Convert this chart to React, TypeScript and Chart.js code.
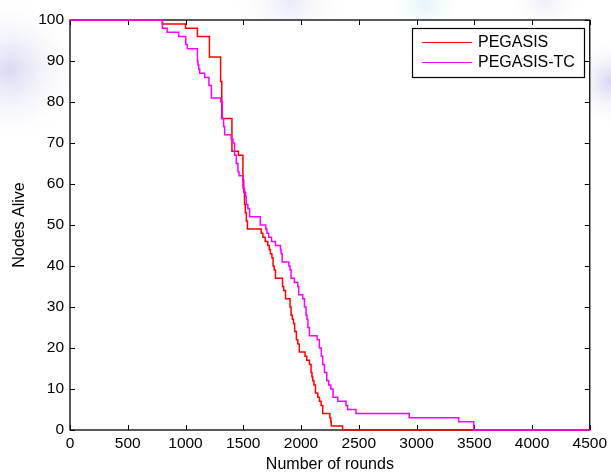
import React, { useEffect, useRef } from 'react';
import { Chart, registerables } from 'chart.js';

Chart.register(...registerables);

const xTicks = [0, 500, 1000, 1500, 2000, 2500, 3000, 3500, 4000, 4500];
const yTicks = [0, 10, 20, 30, 40, 50, 60, 70, 80, 90, 100];
const seriesLabels = ['PEGASIS', 'PEGASIS-TC'];
const seriesColors = ['#ff0000', '#ff00ff'];
const xTitle = 'Number of rounds';
const yTitle = 'Nodes Alive';

// PEGASIS: round at which the alive count changes, and the new count
const pegasisRounds = [0, 800, 1000, 1103, 1207, 1304, 1314, 1402, 1458, 1497, 1504, 1511, 1518, 1527, 1536, 1655, 1670, 1690, 1712, 1725, 1735, 1748, 1758, 1768, 1779, 1840, 1850, 1866, 1905, 1914, 1925, 1935, 1945, 1960, 1972, 1985, 2035, 2050, 2073, 2087, 2095, 2101, 2112, 2125, 2145, 2160, 2174, 2188, 2250, 2258, 2262, 2360, 4500];
const pegasisAlive = [100, 99, 98, 96, 91, 85, 76, 68, 67, 61, 58, 55, 53, 51, 49, 48, 47, 46, 45, 44, 43, 42, 40, 39, 37, 35, 34, 32, 30, 28, 27, 26, 24, 22, 21, 19, 18, 17, 16, 14, 13, 12, 11, 9, 8, 7, 6, 4, 3, 2, 1, 0, 0];

// PEGASIS-TC
const tcRounds = [0, 800, 841, 941, 1002, 1016, 1103, 1108, 1115, 1123, 1166, 1203, 1224, 1304, 1319, 1330, 1339, 1396, 1411, 1425, 1440, 1454, 1463, 1497, 1511, 1520, 1526, 1540, 1555, 1647, 1695, 1705, 1720, 1745, 1779, 1822, 1828, 1837, 1895, 1905, 1914, 1943, 1972, 1980, 2015, 2030, 2044, 2052, 2060, 2073, 2140, 2159, 2176, 2188, 2203, 2223, 2240, 2258, 2278, 2318, 2390, 2404, 2476, 2937, 3365, 3495, 4500];
const tcAlive = [100, 98, 97, 96, 94, 93, 90, 89, 88, 87, 86, 84, 81, 80, 76, 74, 72, 71, 70, 67, 65, 63, 62, 59, 58, 57, 55, 54, 52, 50, 49, 48, 47, 46, 45, 44, 43, 41, 40, 39, 37, 36, 35, 33, 32, 30, 28, 27, 25, 23, 22, 20, 18, 16, 14, 12, 11, 10, 8, 7, 6, 5, 4, 3, 2, 0, 0];

const FONT = 'Liberation Sans, Arial, Helvetica, sans-serif';

const boxPlugin = {
  id: 'matlabBox',
  beforeDraw(chart: any) {
    const { ctx, width, height, chartArea } = chart;
    ctx.save();
    ctx.fillStyle = '#ffffff';
    ctx.fillRect(0, 0, width, height);
    const blobs = [
      [10, 70, 75, 'rgba(170,170,225,0.45)'],
      [290, 0, 60, 'rgba(195,195,235,0.35)'],
      [425, 4, 40, 'rgba(185,228,238,0.4)'],
      [611, 82, 45, 'rgba(170,170,225,0.5)'],
      [545, 0, 40, 'rgba(205,205,240,0.35)'],
    ];
    blobs.forEach(([bx, by, r, c]: any) => {
      const g = ctx.createRadialGradient(bx, by, 0, bx, by, r);
      g.addColorStop(0, c);
      g.addColorStop(1, 'rgba(255,255,255,0)');
      ctx.fillStyle = g;
      ctx.fillRect(bx - r, by - r, r * 2, r * 2);
    });
    ctx.fillStyle = '#ffffff';
    ctx.fillRect(chartArea.left, chartArea.top, chartArea.right - chartArea.left, chartArea.bottom - chartArea.top);
    ctx.restore();
  },
  beforeDatasetsDraw(chart: any) {
    const { ctx, chartArea, scales } = chart;
    const { left, right, top, bottom } = chartArea;
    ctx.save();
    ctx.strokeStyle = '#000000';
    ctx.lineWidth = 1.3;
    ctx.strokeRect(left, top, right - left, bottom - top);
    ctx.lineWidth = 1;
    ctx.beginPath();
    xTicks.forEach((v) => {
      const p = Math.round(scales.x.getPixelForValue(v)) + 0.5;
      ctx.moveTo(p, bottom);
      ctx.lineTo(p, bottom - 5);
      ctx.moveTo(p, top);
      ctx.lineTo(p, top + 5);
    });
    yTicks.forEach((v) => {
      const p = Math.round(scales.y.getPixelForValue(v)) + 0.5;
      ctx.moveTo(left, p);
      ctx.lineTo(left + 5, p);
      ctx.moveTo(right, p);
      ctx.lineTo(right - 5, p);
    });
    ctx.stroke();
    ctx.restore();
  },
  afterDraw(chart: any) {
    const { ctx } = chart;
    ctx.save();
    const bx = 412.5, by = 28.5, bw = 172, bh = 49;
    ctx.fillStyle = '#ffffff';
    ctx.fillRect(bx, by, bw, bh);
    ctx.strokeStyle = '#000000';
    ctx.lineWidth = 1.2;
    ctx.strokeRect(bx, by, bw, bh);
    chart.data.datasets.forEach((ds: any, i: number) => {
      const y = 42.5 + i * 20;
      ctx.strokeStyle = ds.borderColor;
      ctx.lineWidth = 1;
      ctx.beginPath();
      ctx.moveTo(422, y);
      ctx.lineTo(472, y);
      ctx.stroke();
      ctx.fillStyle = '#000000';
      ctx.font = `16px ${FONT}`;
      ctx.textBaseline = 'middle';
      ctx.textAlign = 'left';
      ctx.fillText(ds.label, 478, y);
    });
    ctx.restore();
  },
};

export default function App() {
  const ref = useRef<HTMLCanvasElement | null>(null);

  useEffect(() => {
    document.body.style.margin = '0';
    if (!ref.current) return;
    const chart = new Chart(ref.current, {
      type: 'line',
      data: {
        datasets: [
          {
            label: seriesLabels[0],
            data: pegasisRounds.map((x, i) => ({ x, y: pegasisAlive[i] })),
            borderColor: seriesColors[0],
            backgroundColor: seriesColors[0],
            borderWidth: 1.5,
            pointRadius: 0,
            stepped: 'before',
            fill: false,
            clip: 3,
            order: 1,
          },
          {
            label: seriesLabels[1],
            data: tcRounds.map((x, i) => ({ x, y: tcAlive[i] })),
            borderColor: seriesColors[1],
            backgroundColor: seriesColors[1],
            borderWidth: 1.5,
            pointRadius: 0,
            stepped: 'before',
            fill: false,
            clip: 3,
            order: 0,
          },
        ],
      },
      options: {
        responsive: false,
        animation: false,
        layout: { padding: { top: 20, right: 20, left: 0, bottom: 0 } },
        plugins: { legend: { display: false }, tooltip: { enabled: false }, title: { display: false } },
        scales: {
          x: {
            type: 'linear',
            min: 0,
            max: 4500,
            afterBuildTicks: (s: any) => { s.ticks = xTicks.map((v) => ({ value: v })); },
            ticks: { color: '#000', font: { size: 15.5, family: FONT }, padding: 4, maxRotation: 0, autoSkip: false, callback: (v: any) => String(v) },
            grid: { display: false, drawTicks: false, tickLength: 0 },
            border: { display: false },
            title: { display: true, text: xTitle, color: '#000', font: { size: 16, family: FONT }, padding: { top: 0, bottom: 0 } },
            afterFit: (s: any) => { s.height = 44; },
          },
          y: {
            type: 'linear',
            min: 0,
            max: 100,
            afterBuildTicks: (s: any) => { s.ticks = yTicks.map((v) => ({ value: v })); },
            ticks: { color: '#000', font: { size: 15.5, family: FONT }, padding: 6, autoSkip: false, callback: (v: any) => String(v) },
            grid: { display: false, drawTicks: false, tickLength: 0 },
            border: { display: false },
            title: { display: true, text: yTitle, color: '#000', font: { size: 16, family: FONT }, padding: { top: 10.3, bottom: 0 } },
            afterFit: (s: any) => { s.width = 70; },
          },
        },
      },
      plugins: [boxPlugin],
    } as any);
    return () => chart.destroy();
  }, []);

  return (
    <div style={{ position: 'fixed', left: 0, top: 0, width: 611, height: 474 }}>
      <canvas ref={ref} width={611} height={474} style={{ display: 'block' }} />
    </div>
  );
}
